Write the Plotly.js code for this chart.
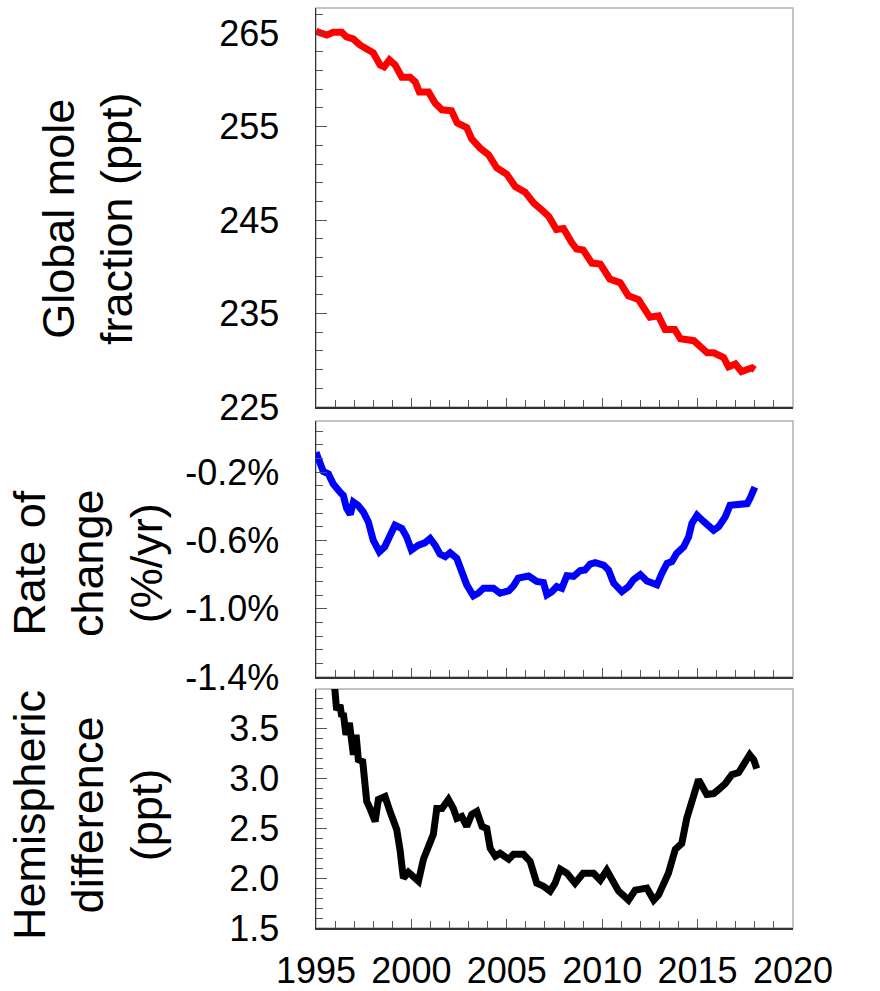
<!DOCTYPE html>
<html>
<head>
<meta charset="utf-8">
<script src="https://cdn.plot.ly/plotly-3.0.1.min.js"></script>
<style>html,body{margin:0;padding:0;background:#fff;}#chart{width:880px;height:991px;}</style>
</head>
<body>
<div id="chart"></div>
<script>
// Panel 1: global mole fraction (ppt)
const yearsGlobal = [1995.0,1995.56,1995.9,1996.35,1996.6,1996.95,1997.3,1997.75,1998.0,1998.36,1998.57,1998.85,1999.15,1999.5,1999.93,2000.2,2000.42,2000.9,2001.25,2001.6,2002.1,2002.4,2002.9,2003.16,2003.6,2004.04,2004.47,2005.0,2005.44,2005.96,2006.4,2006.9,2007.2,2007.6,2007.97,2008.4,2008.66,2009.0,2009.46,2009.9,2010.4,2010.94,2011.37,2011.9,2012.5,2012.95,2013.3,2013.8,2014.1,2014.8,2015.5,2015.84,2016.36,2016.62,2016.98,2017.3,2017.85,2018.0];
const globalPpt = [265.2,264.8,265.1,265.1,264.6,264.4,263.75,263.2,262.9,261.6,261.4,262.15,261.6,260.3,260.3,259.8,258.7,258.7,257.5,256.8,256.7,255.4,254.9,253.7,252.7,252.0,250.6,249.9,248.6,248.0,246.85,245.96,245.4,244.0,244.1,242.6,241.9,241.8,240.4,240.3,238.7,238.3,236.9,236.5,234.6,234.75,233.3,233.3,232.3,232.1,230.8,230.8,230.3,229.3,229.6,228.8,229.2,229.0];

// Panel 2: rate of change (%/yr)
const yearsRate = [1995.0,1995.2,1995.38,1995.65,1995.9,1996.26,1996.43,1996.6,1996.8,1996.96,1997.2,1997.48,1997.74,1998.0,1998.32,1998.6,1998.88,1999.14,1999.5,1999.75,2000.0,2000.37,2000.7,2000.98,2001.24,2001.5,2001.77,2002.03,2002.38,2002.64,2002.9,2003.25,2003.5,2003.78,2004.3,2004.65,2005.1,2005.35,2005.6,2006.14,2006.57,2006.92,2007.1,2007.36,2007.62,2007.88,2008.15,2008.5,2008.85,2009.1,2009.37,2009.63,2010.07,2010.33,2010.6,2011.03,2011.38,2011.64,2012.0,2012.34,2012.87,2013.13,2013.4,2013.65,2013.9,2014.27,2014.53,2014.7,2014.97,2015.3,2015.84,2016.1,2016.45,2016.7,2017.07,2017.6,2017.76,2018.0];
const ratePct = [-0.083,-0.132,-0.196,-0.21,-0.268,-0.317,-0.336,-0.41,-0.447,-0.375,-0.394,-0.433,-0.49,-0.598,-0.666,-0.637,-0.569,-0.511,-0.53,-0.579,-0.656,-0.627,-0.614,-0.588,-0.627,-0.68,-0.695,-0.672,-0.705,-0.792,-0.86,-0.924,-0.909,-0.88,-0.88,-0.909,-0.895,-0.866,-0.821,-0.808,-0.84,-0.847,-0.918,-0.9,-0.87,-0.88,-0.806,-0.81,-0.777,-0.773,-0.738,-0.73,-0.744,-0.773,-0.85,-0.9,-0.87,-0.83,-0.80,-0.837,-0.86,-0.792,-0.734,-0.724,-0.676,-0.637,-0.579,-0.5,-0.452,-0.487,-0.54,-0.52,-0.462,-0.394,-0.394,-0.384,-0.35,-0.287];
const rateTickVals = [-1.4, -1.0, -0.6, -0.2];
const rateTickText = ['-1.4%', '-1.0%', '-0.6%', '-0.2%'];

// Panel 3: hemispheric difference (ppt)
const yearsHemi = [1995.95,1996.0,1996.08,1996.26,1996.35,1996.43,1996.57,1996.75,1996.87,1996.96,1997.1,1997.22,1997.45,1997.66,1997.83,1998.1,1998.27,1998.62,1998.88,1999.23,1999.4,1999.58,1999.84,2000.1,2000.37,2000.63,2000.9,2001.15,2001.33,2001.6,2001.94,2002.2,2002.38,2002.64,2002.9,2003.16,2003.43,2003.7,2003.95,2004.13,2004.4,2004.65,2005.1,2005.35,2005.87,2006.22,2006.57,2006.92,2007.27,2007.53,2007.8,2008.15,2008.58,2009.0,2009.55,2009.9,2010.24,2010.5,2010.86,2011.38,2011.73,2012.34,2012.7,2012.95,2013.2,2013.47,2013.83,2014.17,2014.43,2014.7,2015.05,2015.48,2015.84,2016.1,2016.45,2016.8,2017.15,2017.41,2017.73,2017.94,2018.1];
const hemiPpt = [3.98,3.89,3.69,3.74,3.62,3.66,3.44,3.56,3.37,3.24,3.44,3.19,3.17,2.77,2.70,2.57,2.79,2.82,2.67,2.49,2.29,2.0,2.06,2.02,1.97,2.19,2.30,2.44,2.70,2.70,2.79,2.70,2.60,2.62,2.52,2.64,2.67,2.52,2.50,2.30,2.22,2.25,2.19,2.24,2.24,2.17,1.95,1.92,1.87,1.95,2.09,2.05,1.95,2.05,2.05,1.98,2.08,1.98,1.87,1.78,1.88,1.90,1.78,1.83,1.95,2.05,2.29,2.35,2.60,2.80,2.99,2.84,2.85,2.89,2.95,3.04,3.06,3.14,3.24,3.19,3.10];

const FONT = '"Liberation Sans", Arial, sans-serif';
const tickFont = {family: FONT, size: 36, color: '#000'};

function xAxis(anchor, labels) {
  return {
    anchor: anchor, range: [1995, 2020], tick0: 1995, dtick: 5,
    showgrid: false, zeroline: false, showline: true, linecolor: '#333', linewidth: 1.5,
    ticks: 'inside', ticklen: 9, tickcolor: '#555', tickwidth: 1,
    minor: {dtick: 1, ticks: 'inside', ticklen: 7, tickcolor: '#555', tickwidth: 1, showgrid: false},
    showticklabels: labels, tickfont: tickFont, ticklabelstandoff: 10,
    fixedrange: true
  };
}
function yAxis(domain, range, tick0, dtick, minorD, fmt) {
  return {
    domain: domain, range: range, tick0: tick0, dtick: dtick,
    showgrid: false, zeroline: false, showline: true, linecolor: '#333', linewidth: 1.5,
    ticks: 'inside', ticklen: 11, tickcolor: '#555', tickwidth: 1,
    minor: {dtick: minorD, tick0: tick0, ticks: 'inside', ticklen: 7, tickcolor: '#555', tickwidth: 1, showgrid: false},
    tickfont: tickFont, tickformat: fmt, ticklabelstandoff: 28,
    fixedrange: true
  };
}

const traces = [
  {x: yearsGlobal, y: globalPpt, xaxis: 'x', yaxis: 'y', mode: 'lines', line: {color: '#ff0000', width: 7}},
  {x: yearsRate, y: ratePct, xaxis: 'x2', yaxis: 'y2', mode: 'lines', line: {color: '#0000ff', width: 7}},
  {x: yearsHemi, y: hemiPpt, xaxis: 'x3', yaxis: 'y3', mode: 'lines', line: {color: '#000000', width: 7}}
];

const frame = (xr, yr) => ({type: 'rect', xref: xr + ' domain', yref: yr + ' domain', x0: 0, x1: 1, y0: 0, y1: 1,
  line: {color: '#b0b0b0', width: 1.5}, layer: 'below'});

const y2 = yAxis([0.2728, 0.5511], [-1.4, 0.1], -1.4, 0.4, 0.08, '.1f');
y2.tickmode = 'array';
y2.tickvals = rateTickVals;
y2.ticktext = rateTickText;

const titleFont = {family: FONT, size: 45, color: '#000'};
const layout = {
  width: 880, height: 991,
  margin: {l: 316, r: 87, t: 8, b: 63},
  paper_bgcolor: '#fff', plot_bgcolor: '#fff',
  showlegend: false,
  xaxis: xAxis('y', false),
  xaxis2: xAxis('y2', false),
  xaxis3: xAxis('y3', true),
  yaxis: yAxis([0.5663, 1], [225, 267.7], 225, 10, 2, 'd'),
  yaxis2: y2,
  yaxis3: yAxis([0, 0.2598], [1.5, 3.9], 1.5, 0.5, 0.1, '.1f'),
  shapes: [frame('x', 'y'), frame('x2', 'y2'), frame('x3', 'y3')],
  annotations: [
    {text: 'Global mole<br>fraction (ppt)', xref: 'paper', yref: 'paper', x: -0.478, y: 0.7717, xanchor: 'center', yanchor: 'middle', textangle: -90, showarrow: false, font: titleFont},
    {text: 'Rate of<br>change<br>(%/yr)', xref: 'paper', yref: 'paper', x: -0.478, y: 0.3967, xanchor: 'center', yanchor: 'middle', textangle: -90, showarrow: false, font: titleFont},
    {text: 'Hemispheric<br>difference<br>(ppt)', xref: 'paper', yref: 'paper', x: -0.478, y: 0.1228, xanchor: 'center', yanchor: 'middle', textangle: -90, showarrow: false, font: titleFont}
  ]
};

Plotly.newPlot('chart', traces, layout, {displayModeBar: false, staticPlot: true});
</script>
</body>
</html>
